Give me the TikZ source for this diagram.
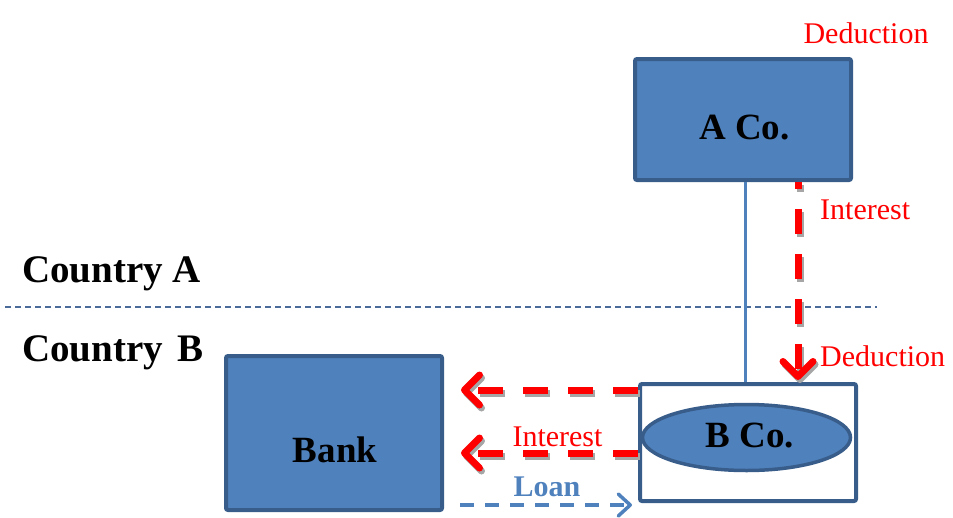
\documentclass[tikz,border=0pt]{standalone}
\usepackage{fontspec}
\setmainfont{Liberation Serif}
\usetikzlibrary{arrows.meta,shapes.geometric}
\definecolor{boxfill}{HTML}{4F81BD}
\definecolor{boxline}{HTML}{385D8A}
\definecolor{shadowgray}{HTML}{A6A6A6}
\definecolor{divline}{HTML}{4A6A9A}
\begin{document}
\begin{tikzpicture}[x=1pt,y=-1pt,
  bluebox/.style={draw=boxline, line width=4pt, fill=boxfill, rounded corners=2pt, inner sep=0pt},
  whitebox/.style={draw=boxline, line width=4pt, fill=white, rounded corners=2pt, inner sep=0pt},
  blueoval/.style={ellipse, draw=boxline, line width=3.5pt, fill=boxfill, inner sep=0pt},
  bigtext/.style={font=\fontsize{37}{40}\selectfont\bfseries, inner sep=0pt, anchor=base},
  countrytext/.style={font=\fontsize{39}{42}\selectfont\bfseries, inner sep=0pt, anchor=base west},
  redtext/.style={text=red, font=\fontsize{30}{32}\selectfont, inner sep=0pt},
  loantext/.style={text=boxfill, font=\fontsize{30}{32}\selectfont\bfseries, inner sep=0pt, anchor=base},
  redflow/.style={line width=7pt, dash pattern=on 25pt off 20pt, -{Straight Barb[length=15pt,width=30pt,round]}},
  loanflow/.style={draw=boxfill, line width=3.5pt, dash pattern=on 14pt off 11pt, -{Straight Barb[length=12pt,width=22pt,round]}},
  divider/.style={draw=divline, line width=1.3pt, dash pattern=on 6pt off 4pt},
  linkline/.style={draw=boxfill, line width=3pt}
]
\useasboundingbox (0,0) rectangle (953,517);

% boxes
\node[bluebox, minimum width=216pt, minimum height=121pt] (aco) at (743,119.5) {};
\node[bluebox, minimum width=216pt, minimum height=154pt] (bank) at (334,433) {};

% divider
\coordinate (d0) at (5,307);
\coordinate (d1) at (877,307);
\draw[divider] (d0) -- (d1);

% link line from A Co. to B Co.
\coordinate (lx) at (745,0);
\coordinate (vx) at (798,380);

\node[whitebox, minimum width=216pt, minimum height=117pt] (bbox) at (748,442.5) {};
\node[blueoval, minimum width=208pt, minimum height=66pt] (boval) at (746.5,437.5) {};

\draw[linkline] (aco.south -| lx) -- (bbox.north -| lx);

% red vertical arrow
\draw[redflow, draw=shadowgray, dash phase=18pt, transform canvas={shift={(2,3)}}] (aco.south -| vx) -- (vx);
\draw[redflow, draw=red, dash phase=18pt] (aco.south -| vx) -- (vx);

% red horizontal arrows
\coordinate (h1) at (461,390);
\coordinate (h2) at (461,453);
\draw[redflow, draw=shadowgray, transform canvas={shift={(2,3)}}] (bbox.west |- h1) -- (h1);
\draw[redflow, draw=red] (bbox.west |- h1) -- (h1);
\draw[redflow, draw=shadowgray, transform canvas={shift={(2,3)}}] (bbox.west |- h2) -- (h2);
\draw[redflow, draw=red] (bbox.west |- h2) -- (h2);

% loan arrow
\coordinate (l0) at (460,505);
\draw[loanflow, shorten >=6pt] (l0) -- (bbox.west |- l0);

% texts
\node[bigtext] (acotxt) at (744.5,139) {A Co.};
\node[bigtext] (bcotxt) at (750,447) {B Co.};
\node[bigtext] (banktxt) at (335,462) {Bank};
\node[countrytext] (ca) at (22,282) {Country A};
\node[countrytext] (cb) at (22,361) {Country\hspace{0.12em} B};
\node[redtext, anchor=base] (ded1) at (866,43) {Deduction};
\node[redtext, anchor=base west] (int1) at (820,219) {Interest};
\node[redtext, anchor=base west] (ded2) at (820,366) {Deduction};
\node[redtext, anchor=base] (int2) at (557.5,446) {Interest};
\node[loantext] (loan) at (547,496) {Loan};
\end{tikzpicture}
\end{document}
